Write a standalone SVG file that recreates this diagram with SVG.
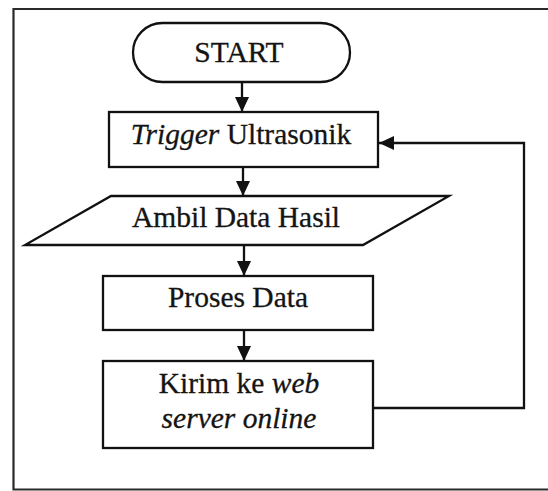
<svg xmlns="http://www.w3.org/2000/svg" width="548" height="491" viewBox="0 0 548 491">
  <style>
    .shape { fill: #ffffff; stroke: #111111; stroke-width: 2.3; }
    .line { fill: none; stroke: #111111; stroke-width: 2.3; }
    .label { font-family: "Liberation Serif", "Times New Roman", serif; font-size: 29.5px; fill: #141414; stroke: #141414; stroke-width: 0.3; text-anchor: middle; }
    .it { font-style: italic; }
  </style>
  <defs>
    <marker id="arrow" viewBox="0 0 15 14" refX="15" refY="7" markerWidth="15" markerHeight="14" markerUnits="userSpaceOnUse" orient="auto">
      <path d="M0,0 L15,7 L0,14 Z" fill="#111111"/>
    </marker>
  </defs>

  <!-- outer frame (open on the right) -->
  <path d="M549,9 L13.5,9 L13.5,489.5 L549,489.5" fill="none" stroke="#2a2a2a" stroke-width="2.2"/>

  <g id="start">
    <rect class="shape" x="133" y="23" width="217" height="59" rx="29.5" ry="29.5"/>
    <text class="label" x="239" y="62">START</text>
  </g>

  <g id="trigger">
    <rect class="shape" x="109" y="112" width="269" height="55"/>
    <text class="label" x="241" y="144"><tspan class="it">Trigger</tspan> Ultrasonik</text>
  </g>

  <g id="ambil">
    <polygon class="shape" points="111,196 449,196 363,245 25,245"/>
    <text class="label" x="236" y="227">Ambil Data Hasil</text>
  </g>

  <g id="proses">
    <rect class="shape" x="103" y="276" width="270" height="54"/>
    <text class="label" x="238" y="307">Proses Data</text>
  </g>

  <g id="kirim">
    <rect class="shape" x="103" y="361" width="270" height="87"/>
    <text class="label" x="239" y="393">Kirim ke <tspan class="it">web</tspan></text>
    <text class="label it" x="239" y="428">server online</text>
  </g>

  <g id="connectors">
    <line class="line" x1="242" y1="82" x2="242" y2="112" marker-end="url(#arrow)"/>
    <line class="line" x1="243" y1="167" x2="243" y2="196" marker-end="url(#arrow)"/>
    <line class="line" x1="244" y1="245" x2="244" y2="276" marker-end="url(#arrow)"/>
    <line class="line" x1="244" y1="330" x2="244" y2="361" marker-end="url(#arrow)"/>
    <path class="line" d="M373,408 L524,408 L524,143 L379,143" marker-end="url(#arrow)"/>
  </g>
</svg>
